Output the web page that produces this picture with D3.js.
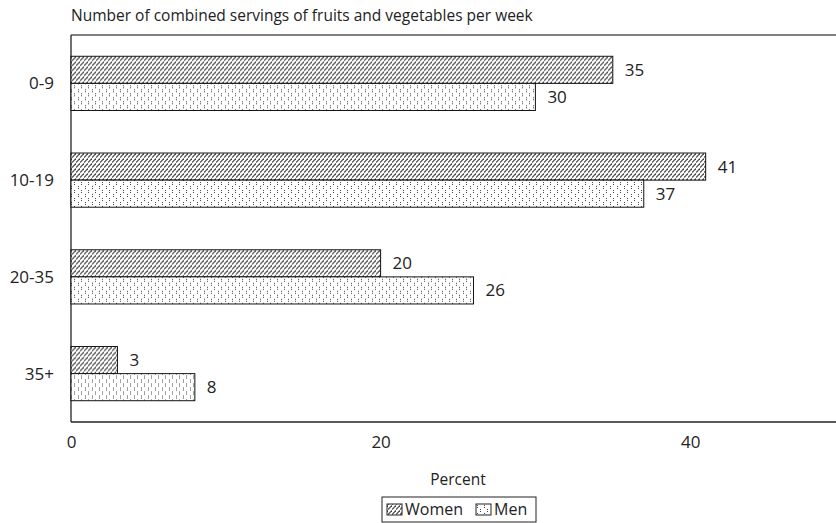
<!DOCTYPE html>
<html><head><meta charset="utf-8">
<script src="https://cdn.jsdelivr.net/npm/d3@7"></script>
<style>
html,body{margin:0;padding:0;background:#fff;}
svg{display:block;font-family:"Open Sans",sans-serif;}
</style></head>
<body>
<svg id="chart" width="836" height="523"></svg>
<script>
const categories = ["0-9", "10-19", "20-35", "35+"];
const seriesNames = ["Women", "Men"];
const women = [35, 41, 20, 3];
const men = [30, 37, 26, 8];
const xTicks = [0, 20, 40];
const title = "Number of combined servings of fruits and vegetables per week";
const xTitle = "Percent";

const svg = d3.select("#chart");
const mLeft = 71, mTop = 35, mBottom = 422, mRight = 845;

const defs = svg.append("defs");
const pw = defs.append("pattern").attr("id","pWomen").attr("patternUnits","userSpaceOnUse")
  .attr("width",4).attr("height",5);
pw.append("rect").attr("width",4).attr("height",5).attr("fill","#fff");
pw.append("path").attr("d","M0,4.5 L4,0.5").attr("stroke","#444").attr("stroke-width",1.2);
const pm = defs.append("pattern").attr("id","pMen").attr("patternUnits","userSpaceOnUse")
  .attr("width",7).attr("height",8);
pm.append("rect").attr("width",7).attr("height",8).attr("fill","#fff");
[[1,1],[1,3],[4,5],[4,7]].forEach(([a,b])=>pm.append("rect").attr("x",a).attr("y",b).attr("width",1).attr("height",1).attr("fill","#444"));
const fills = {Women:"url(#pWomen)", Men:"url(#pMen)"};

const x = d3.scaleLinear().domain([0,50]).range([mLeft,mRight]);
const y = d3.scaleBand().domain(categories).range([mTop,mBottom]).paddingInner(0.44).paddingOuter(0.22);
const ySub = d3.scaleBand().domain(seriesNames).range([0,y.bandwidth()]);

const data = categories.map((c,i)=>({cat:c, vals:[{s:"Women",v:women[i]},{s:"Men",v:men[i]}]}));

// frame
svg.append("line").attr("x1",mLeft).attr("x2",836).attr("y1",mTop).attr("y2",mTop).attr("stroke","#555").attr("stroke-width",1.3);
svg.append("line").attr("x1",mLeft).attr("x2",mLeft).attr("y1",mTop).attr("y2",mBottom).attr("stroke","#222").attr("stroke-width",1.3);
svg.append("line").attr("x1",mLeft).attr("x2",836).attr("y1",mBottom).attr("y2",mBottom).attr("stroke","#222").attr("stroke-width",1.3);

const g = svg.append("g").selectAll("g").data(data).join("g")
  .attr("transform",d=>`translate(0,${y(d.cat)})`);
g.selectAll("rect").data(d=>d.vals).join("rect")
  .attr("x",x(0)).attr("y",d=>ySub(d.s)).attr("width",d=>x(d.v)-x(0)).attr("height",ySub.bandwidth())
  .attr("fill",d=>fills[d.s]).attr("stroke","#111").attr("stroke-width",1);
g.selectAll("text").data(d=>d.vals).join("text")
  .attr("x",d=>x(d.v)+12).attr("y",d=>ySub(d.s)+ySub.bandwidth()/2).attr("dy","0.35em")
  .attr("font-size",17).attr("fill","#222").text(d=>d.v);

// y labels
svg.append("g").selectAll("text").data(categories).join("text")
  .attr("x",mLeft-17).attr("y",d=>y(d)+y.bandwidth()/2).attr("dy","0.35em").attr("text-anchor","end")
  .attr("font-size",17).attr("fill","#222").text(d=>d);

// x axis tick labels
const xAxis = d3.axisBottom(x).tickValues(xTicks).tickSize(0).tickPadding(14);
const ax = svg.append("g").attr("transform",`translate(0,${mBottom})`).call(xAxis);
ax.select(".domain").remove();
ax.selectAll("text").attr("font-size",17).attr("fill","#222").attr("font-family","Open Sans");

svg.append("text").attr("x",(mLeft+mRight)/2).attr("y",485).attr("text-anchor","middle")
  .attr("font-size",15.5).attr("fill","#222").text(xTitle);
svg.append("text").attr("x",71).attr("y",21).attr("font-size",15.5).attr("fill","#222").text(title);

// legend
const lg = svg.append("g");
lg.append("rect").attr("x",382).attr("y",497).attr("width",154).attr("height",25).attr("fill","#fff").attr("stroke","#222").attr("stroke-width",1);
const items = [{s:"Women",sx:387,tx:405},{s:"Men",sx:476,tx:494}];
items.forEach(it=>{
  lg.append("rect").attr("x",it.sx).attr("y",504).attr("width",15).attr("height",11).attr("fill",fills[it.s]).attr("stroke","#222").attr("stroke-width",1);
  lg.append("text").attr("x",it.tx).attr("y",515).attr("font-size",16).attr("fill","#222").text(it.s);
});
</script>
</body></html>
